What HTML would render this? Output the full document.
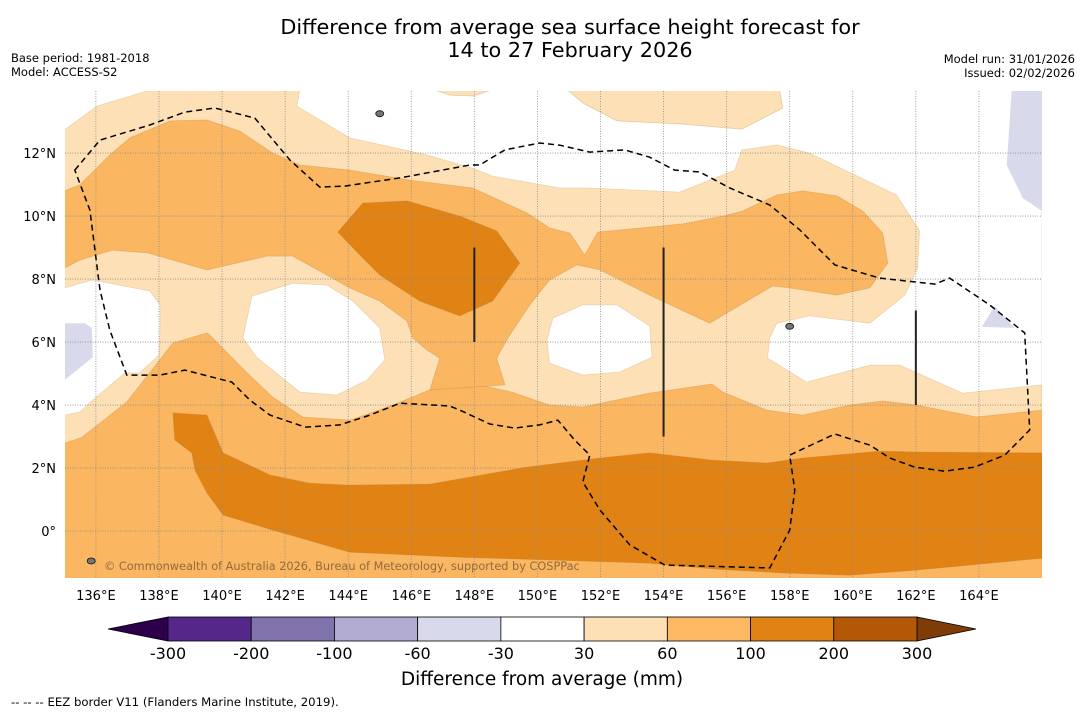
<!DOCTYPE html>
<html><head><meta charset="utf-8"><style>
html,body{margin:0;padding:0;background:#fff;}
svg{display:block;font-family:"DejaVu Sans","Liberation Sans",sans-serif;}
</style></head><body>
<svg id="chart" width="1085" height="713" viewBox="0 0 1085 713" xmlns="http://www.w3.org/2000/svg">
<text x="570" y="34" font-size="20.8" text-anchor="middle">Difference from average sea surface height forecast for</text>
<text x="570" y="57" font-size="20.8" text-anchor="middle">14 to 27 February 2026</text>
<text x="11" y="62" font-size="11.5">Base period: 1981-2018</text>
<text x="11" y="76" font-size="11.5">Model: ACCESS-S2</text>
<text x="1075" y="63" font-size="11.5" text-anchor="end">Model run: 31/01/2026</text>
<text x="1075" y="77" font-size="11.5" text-anchor="end">Issued: 02/02/2026</text>
<defs><clipPath id="mapclip"><rect x="65" y="91" width="977" height="487"/></clipPath></defs>
<g id="map" clip-path="url(#mapclip)"></g>
<g id="axes"></g>
<g id="cbar"></g>
<text x="542" y="685" font-size="18.5" text-anchor="middle">Difference from average (mm)</text>
<text x="11" y="706" font-size="11.7">--  --  -- EEZ border V11 (Flanders Marine Institute, 2019).</text>
</svg>
<script>
// ---- data (lon/lat contour polygons) ----
var lonTicks=[136,138,140,142,144,146,148,150,152,154,156,158,160,162,164];
var latTicks=[0,2,4,6,8,10,12];
var lightBig=[[135,14],[166,14],[166,3.84],[163.93,3.62],[162.03,4.0],[160.95,4.13],[159.9,4.0],[158.41,3.68],[157.27,3.84],[155.88,4.41],[155.53,4.67],[153.56,4.38],[151.44,3.94],[150.39,4.0],[149.19,4.41],[148.17,4.64],[146.9,4.64],[146.59,4.48],[145.41,4.0],[144.05,3.52],[142.56,3.62],[141.61,4.25],[140.79,5.02],[139.61,6.22],[139.52,6.29],[138.44,5.97],[136.98,4.1],[135.56,2.98],[135,2.79]];
var midUpper=[[135,10.8],[135.49,10.99],[136.44,11.94],[137.08,12.48],[138.35,13.02],[139.52,13.05],[140.56,12.7],[141.61,12.0],[142.47,11.62],[144.05,11.46],[145.95,11.14],[147.95,10.89],[149.66,10.1],[150.39,9.62],[151.03,9.46],[151.5,8.76],[151.91,9.49],[154.61,9.75],[155.88,10.0],[156.51,10.16],[157.59,10.67],[158.41,10.8],[159.49,10.64],[160.31,10.16],[160.95,9.46],[161.11,8.51],[160.54,7.72],[159.49,7.49],[158.0,7.72],[157.46,7.78],[155.46,6.6],[153.56,7.49],[151.98,8.29],[151.25,8.45],[150.39,7.97],[149.76,7.18],[149.12,6.22],[148.71,5.49],[148.97,4.64],[146.59,4.48],[146.9,5.49],[146.49,5.75],[146.05,6.13],[145.86,6.67],[145.0,7.3],[144.05,7.72],[143.32,8.13],[142.24,8.73],[141.42,8.73],[139.52,8.29],[137.65,8.83],[136.51,8.92],[135.49,8.6],[135,8.35]];
var darkBlob=[[143.67,9.49],[144.46,10.41],[145.86,10.48],[147.54,10.0],[148.71,9.53],[149.44,8.51],[148.58,7.3],[147.54,6.83],[146.27,7.3],[145.0,8.13],[144.37,8.76]];
var darkBand=[[138.5,2.89],[138.44,3.75],[139.52,3.68],[140.03,2.48],[141.52,1.78],[142.78,1.52],[144.05,1.46],[146.59,1.49],[149.66,2.03],[151.98,2.32],[153.56,2.48],[155.56,2.25],[157.27,2.16],[158.41,2.32],[160.85,2.54],[162.03,2.51],[166,2.48],[166,-0.86],[162.03,-1.24],[159.9,-1.4],[157.78,-1.33],[155.69,-1.21],[153.56,-1.02],[150.39,-0.92],[147.54,-0.83],[144.05,-0.67],[141.61,0.03],[140.03,0.51],[139.52,1.21],[139.14,1.94],[139.04,2.48]];
var whiteTopLeft=[[135,14],[137.71,14],[136.03,13.49],[135,12.73]];
var whiteTopCenter=[[142.47,14],[142.37,13.49],[144.05,12.48],[146.49,11.94],[147.95,11.52],[148.58,11.27],[150.71,10.89],[151.66,10.89],[154.51,10.76],[156.26,11.46],[156.48,12.1],[157.59,12.26],[158.63,12.0],[161.39,10.67],[162.12,9.53],[162.06,8.35],[161.65,7.49],[160.54,6.6],[158.63,6.83],[157.59,6.6],[157.37,6.13],[157.3,5.49],[158.54,4.73],[160.54,5.27],[161.49,5.27],[163.48,4.38],[166,4.64],[166,14]];
var whiteLeft=[[135,7.72],[135.9,7.97],[137.71,7.62],[138.03,7.18],[138.03,6.38],[138.0,5.59],[137.39,5.02],[136.92,5.02],[135.9,4.16],[135.49,3.78],[135,3.68]];
var whiteLeftCenter=[[140.95,7.46],[142.24,7.87],[143.32,7.81],[144.15,7.3],[145.0,6.45],[145.16,5.43],[144.59,4.79],[143.64,4.32],[142.47,4.41],[141.1,5.52],[140.66,6.13]];
var whiteCenter=[[150.49,6.76],[151.44,7.18],[152.52,7.18],[153.56,6.51],[153.63,5.52],[152.61,5.05],[151.44,4.95],[150.39,5.33],[150.3,6.06]];
var lightPatch1=[[146.75,14],[147.22,13.84],[147.95,13.81],[148.55,14]];
var lightPatch2=[[150.96,14],[151.44,13.59],[152.52,13.02],[154.61,12.92],[156.48,12.76],[157.78,13.43],[157.68,14]];
var lavTopRight=[[165.04,14],[164.88,11.62],[165.39,10.57],[166,10.16],[166,14]];
var lavSmall=[[164.5,7.14],[164.09,6.48],[165.13,6.45]];
var lavLeft=[[135,6.6],[135.65,6.6],[135.87,6.45],[135.9,5.52],[135,4.79]];
var eez=[[135.33,11.46],[136.13,12.41],[137.71,12.89],[138.82,13.3],[139.77,13.43],[141.04,13.11],[142.15,11.78],[143.1,10.92],[143.89,10.95],[145.64,11.21],[147.86,11.62],[148.17,11.62],[148.97,12.1],[150.07,12.32],[150.71,12.25],[151.66,12.03],[152.77,12.1],[153.56,11.87],[154.35,11.46],[155.15,11.4],[156.1,10.89],[157.37,10.35],[158.32,9.56],[159.43,8.45],[160.85,8.03],[162.6,7.84],[163.07,8.03],[164.34,7.18],[165.45,6.29],[165.61,3.21],[164.82,2.41],[163.86,2.03],[162.91,1.9],[161.96,2.03],[161.17,2.32],[160.54,2.73],[159.43,3.08],[158.0,2.41],[158.16,1.3],[158.0,0.03],[157.37,-1.17],[154.04,-1.08],[152.93,-0.44],[151.98,0.67],[151.44,1.56],[151.66,2.41],[151.18,2.89],[150.65,3.52],[150.07,3.37],[149.28,3.27],[148.49,3.4],[147.54,3.84],[147.22,3.97],[145.64,4.06],[144.69,3.68],[143.73,3.37],[142.63,3.3],[141.52,3.68],[140.88,4.16],[140.31,4.73],[138.82,5.11],[138.03,4.95],[136.98,4.95],[136.44,6.38],[136.13,7.65],[135.81,10.19]];
var segLon=[148,154,162];
var segLat0=[6,3,4];
var segLat1=[9,9,7];
var islands=[[145.0,13.25],[158.0,6.5],[135.85,-0.95]];
var cbarLabels=["-300","-200","-100","-60","-30","30","60","100","200","300"];
var cbarColors=["#542788","#8073ac","#b2abd2","#d8daeb","#ffffff","#fee0b6","#fdb863","#e08214","#b35806"];
var cbarExt=["#2d004b","#7f3b08"];

// ---- projection ----
var X0=65,X1=1042,Y0=91,Y1=578,LON0=135.02,LON1=166.0,LAT0=13.97,LAT1=-1.49;
function px(lon){return X0+(lon-LON0)/(LON1-LON0)*(X1-X0);}
function py(lat){return Y0+(LAT0-lat)/(LAT0-LAT1)*(Y1-Y0);}
var NS="http://www.w3.org/2000/svg";
function mk(tag,attrs,parent){var e=document.createElementNS(NS,tag);for(var k in attrs)e.setAttribute(k,attrs[k]);parent.appendChild(e);return e;}
function pts(arr){return arr.map(function(p){return px(p[0]).toFixed(1)+","+py(p[1]).toFixed(1);}).join(" ");}
var map=document.getElementById('map');
var bg=mk('rect',{x:X0,y:Y0,width:X1-X0,height:Y1-Y0,fill:'#fab660'},map);


function poly(arr,fill,name,stroke){var e=mk('polygon',{points:pts(arr),fill:fill,stroke:stroke||'rgba(190,130,60,0.35)','stroke-width':0.8},map);


return e;}
poly(lightBig,'#fde0b6','contour-30-60-main');
poly(midUpper,'#fab660','contour-60-100-upper');
poly(darkBlob,'#e08214','contour-100-200-blob');
poly(darkBand,'#e08214','contour-100-200-band');
poly(whiteTopLeft,'#ffffff','contour-neutral-topleft','rgba(190,130,60,0.25)');
poly(whiteTopCenter,'#ffffff','contour-neutral-top','rgba(190,130,60,0.25)');
poly(whiteLeft,'#ffffff','contour-neutral-left','rgba(190,130,60,0.25)');
poly(whiteLeftCenter,'#ffffff','contour-neutral-leftcenter','rgba(190,130,60,0.25)');
poly(whiteCenter,'#ffffff','contour-neutral-center','rgba(190,130,60,0.25)');
poly(lightPatch1,'#fde0b6','contour-30-60-patch1');
poly(lightPatch2,'#fde0b6','contour-30-60-patch2');
poly(lavTopRight,'#d8daeb','contour-neg-topright','none');
poly(lavSmall,'#d8daeb','contour-neg-small','none');
poly(lavLeft,'#d8daeb','contour-neg-left','none');
// grid
lonTicks.forEach(function(l){var g=mk('line',{x1:px(l),x2:px(l),y1:Y0,y2:Y1,stroke:'#8a8a8a','stroke-width':0.8,'stroke-dasharray':'1 1.5'},map);

});
latTicks.forEach(function(l){var g=mk('line',{x1:X0,x2:X1,y1:py(l),y2:py(l),stroke:'#8a8a8a','stroke-width':0.8,'stroke-dasharray':'1 1.5'},map);

});
// islands
islands.forEach(function(p,i){var c=mk('ellipse',{cx:px(p[0]),cy:py(p[1]),rx:4,ry:3,fill:'#777',stroke:'#111','stroke-width':0.8},map);

});
// EEZ
var ez=mk('polygon',{points:pts(eez),fill:'none',stroke:'#000','stroke-width':1.5,'stroke-dasharray':'6 4'},map);


segLon.forEach(function(l,i){var s=mk('line',{x1:px(l),x2:px(l),y1:py(segLat1[i]),y2:py(segLat0[i]),stroke:'#222','stroke-width':2},map);

});
var cp=mk('text',{x:104,y:570,'font-size':11.3,fill:'rgba(110,80,50,0.75)'},map);
cp.textContent='© Commonwealth of Australia 2026, Bureau of Meteorology, supported by COSPPac';


// axes labels
var axes=document.getElementById('axes');
lonTicks.forEach(function(l){var t=mk('text',{x:px(l),y:600,'font-size':13,'text-anchor':'middle'},axes);t.textContent=l+'°E';

});
latTicks.forEach(function(l){var t=mk('text',{x:56,y:py(l)+5,'font-size':13,'text-anchor':'end'},axes);t.textContent=l===0?'0°':l+'°N';

});
// colorbar
var cb=document.getElementById('cbar');
var CB0=168,CB1=917,CBY=617,CBH=24,n=cbarColors.length,w=(CB1-CB0)/n;
var tl=mk('polygon',{points:(CB0)+','+CBY+' '+(CB0-60)+','+(CBY+CBH/2)+' '+CB0+','+(CBY+CBH),fill:cbarExt[0],stroke:'#000','stroke-width':0.8},cb);


var tr=mk('polygon',{points:(CB1)+','+CBY+' '+(CB1+59)+','+(CBY+CBH/2)+' '+CB1+','+(CBY+CBH),fill:cbarExt[1],stroke:'#000','stroke-width':0.8},cb);


cbarColors.forEach(function(c,i){var r=mk('rect',{x:CB0+i*w,y:CBY,width:w,height:CBH,fill:c,stroke:'#000','stroke-width':0.8},cb);

});
cbarLabels.forEach(function(s,i){var t=mk('text',{x:CB0+i*w,y:659,'font-size':16,'text-anchor':'middle'},cb);t.textContent=s;

});
</script>
</body></html>
